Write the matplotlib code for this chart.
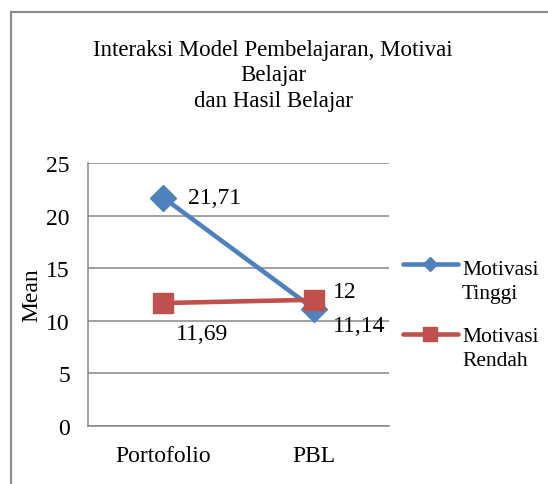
import matplotlib
matplotlib.use("Agg")
import matplotlib.pyplot as plt
import matplotlib.patches
import matplotlib.lines

categories = ["Portofolio", "PBL"]
tinggi = [21.71, 11.14]
rendah = [11.69, 12.0]
tinggi_labels = ["21,71", "11,14"]
rendah_labels = ["11,69", "12"]
yticks = [0, 5, 10, 15, 20, 25]
series_names = [("Motivasi", "Tinggi"), ("Motivasi", "Rendah")]

plt.rcParams['font.family'] = ['Liberation Serif', 'DejaVu Serif']

blue = '#4F81BD'
red = '#C0504D'
grid_gray = '#878787'

W, H = 548, 485
fig = plt.figure(figsize=(W / 100, H / 100), dpi=100)

def fx(px):
    return px / W

def fy(px):
    return 1 - px / H

# outer chart frame (runs off the right and bottom edges)
fig.patches.append(matplotlib.patches.Rectangle(
    (fx(11), -0.05), 1.2, fy(13) + 0.05, transform=fig.transFigure,
    fill=False, edgecolor='#8c8c8c', linewidth=1.6))

ax = fig.add_axes([fx(88), fy(427), 301 / W, 263 / H])
x = list(range(len(categories)))

ax.plot(x, tinggi, color=blue, linewidth=3.3, marker='D', markersize=13,
        zorder=3)
ax.plot(x, rendah, color=red, linewidth=3.3, marker='s', markersize=15,
        zorder=4)

ax.set_xlim(-0.5, 1.5)
ax.set_ylim(0, 25)
ax.set_yticks(yticks)
ax.set_xticks(x)
ax.set_xticklabels(categories)
ax.tick_params(length=0, labelsize=17)
ax.tick_params(axis='y', pad=13)
ax.tick_params(axis='x', pad=14)
ax.yaxis.grid(True, color=grid_gray, linewidth=1.1)
ax.set_axisbelow(True)
for side in ['top', 'right']:
    ax.spines[side].set_visible(False)
for side in ['left', 'bottom']:
    ax.spines[side].set_color(grid_gray)
    ax.spines[side].set_linewidth(1.1)
ax.set_ylabel('Mean', fontsize=17, labelpad=3)

# data labels (offsets in points)
ax.annotate(tinggi_labels[0], (x[0], tinggi[0]), xytext=(18, 0),
            textcoords='offset points', ha='left', va='center', fontsize=17)
ax.annotate(tinggi_labels[1], (x[1], tinggi[1]), xytext=(14, -12),
            textcoords='offset points', ha='left', va='center', fontsize=17)
ax.annotate(rendah_labels[0], (x[0], rendah[0]), xytext=(9, -22),
            textcoords='offset points', ha='left', va='center', fontsize=17)
ax.annotate(rendah_labels[1], (x[1], rendah[1]), xytext=(14, 6),
            textcoords='offset points', ha='left', va='center', fontsize=17)

fig.text(fx(273), fy(76),
         'Interaksi Model Pembelajaran, Motivai\nBelajar\ndan Hasil Belajar',
         ha='center', va='center', fontsize=16.5, linespacing=1.3)

# legend: line handle aligned with the first text line, like Excel
legend_rows = [(blue, 'D', 7, 265, 275), (red, 's', 10, 335, 342)]
for (color, marker, ms, ypx, base), name in zip(legend_rows, series_names):
    fig.add_artist(matplotlib.lines.Line2D(
        [fx(403), fx(458)], [fy(ypx), fy(ypx)], color=color, linewidth=3.3,
        solid_capstyle='round'))
    fig.add_artist(matplotlib.lines.Line2D(
        [fx(430)], [fy(ypx)], color=color, marker=marker, markersize=ms,
        linestyle='none'))
    fig.text(fx(462), fy(base), name[0], ha='left', va='baseline',
             fontsize=15.5)
    fig.text(fx(462), fy(base + 24), name[1], ha='left', va='baseline',
             fontsize=15.5)

fig.savefig('out.png', dpi=100)
